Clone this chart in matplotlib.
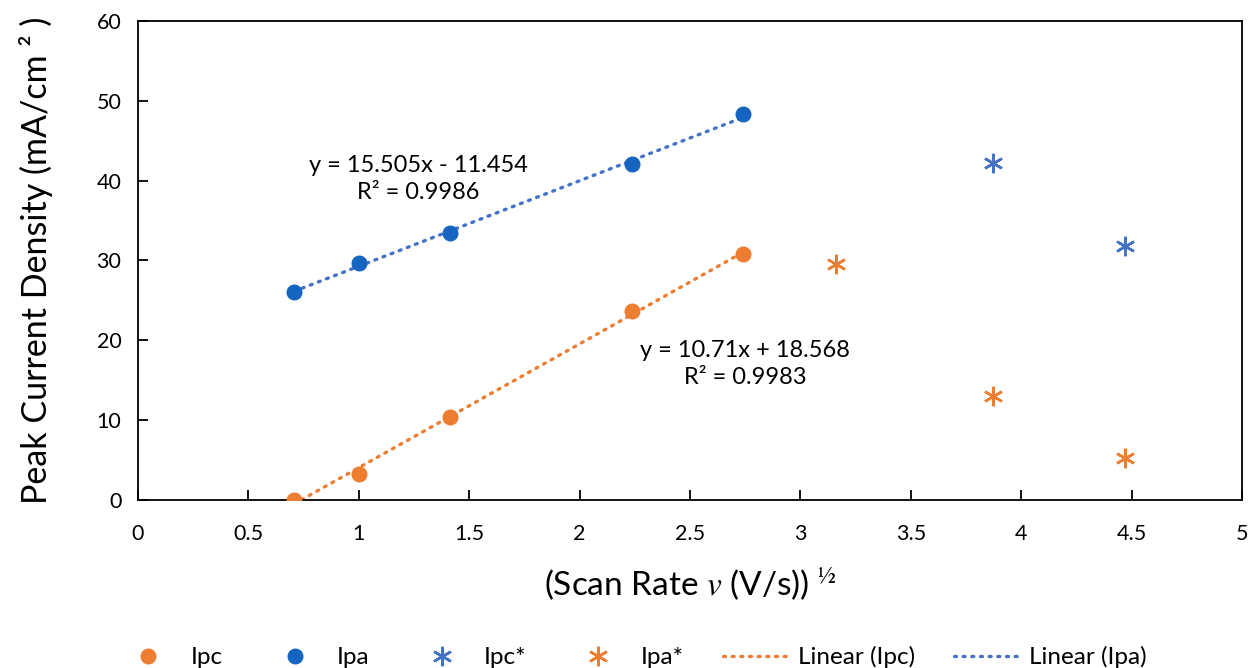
import numpy as np
import matplotlib
matplotlib.use('Agg')
import matplotlib.pyplot as plt

plt.rcParams['font.family'] = ['Lato', 'DejaVu Sans']
plt.rcParams['mathtext.fontset'] = 'stix'

# pierwiastek z szybkosci skanowania
x_fit = [0.707, 1.0, 1.414, 2.236, 2.739]
ipc = [0.0, 3.3, 10.45, 23.7, 30.75]
ipa = [26.1, 29.65, 33.5, 42.1, 48.3]

x_ipc_star = [3.873, 4.472]
ipc_star = [42.2, 31.85]
x_ipa_star = [3.162, 3.873, 4.472]
ipa_star = [29.55, 13.0, 5.2]

# wspolczynniki prostych (nachylenie, wyraz wolny)
fit_ipc = (15.505, -11.454)
fit_ipa = (10.71, 18.568)
r2_ipc = 0.9986
r2_ipa = 0.9983

orange = '#ED7D31'
blue_dark = '#1565C0'
blue = '#4472C4'

fig = plt.figure(figsize=(12.5, 6.68), dpi=100)
ax = fig.add_axes([0.1104, 0.2515, 0.8832, 0.7171])

xx = np.array([min(x_fit), max(x_fit)])
dots = (0, (0.6, 2.0))
ax.plot(x_fit, ipc, 'o', color=orange, ms=10.5, label='Ipc', zorder=3)
ax.plot(x_fit, ipa, 'o', color=blue_dark, ms=10.5, label='Ipa', zorder=3)
ax.plot(x_ipc_star, ipc_star, ls='none', marker=(6, 2, 0), color=blue,
        ms=14, mew=1.8, label='Ipc*', zorder=3)
ax.plot(x_ipa_star, ipa_star, ls='none', marker=(6, 2, 0), color=orange,
        ms=14, mew=1.8, label='Ipa*', zorder=3)
ax.plot(xx, fit_ipc[0] * xx + fit_ipc[1], color=orange, lw=2.4, ls=dots,
        dash_capstyle='round', label='Linear (Ipc)', zorder=2)
ax.plot(xx, fit_ipa[0] * xx + fit_ipa[1], color=blue, lw=2.4, ls=dots,
        dash_capstyle='round', label='Linear (Ipa)', zorder=2)

ax.text(1.268, 40.2, 'y = %.3fx - %.3f\nR² = %.4f' % (fit_ipc[0], -fit_ipc[1], r2_ipc),
        ha='center', va='center', fontsize=17, linespacing=1.35)
ax.text(2.75, 17.0, 'y = %.2fx + %.3f\nR² = %.4f' % (fit_ipa[0], fit_ipa[1], r2_ipa),
        ha='center', va='center', fontsize=17, linespacing=1.35)

ax.set_xlim(0, 5)
ax.set_ylim(0, 60)
ax.set_xticks(np.arange(0, 5.01, 0.5))
ax.set_xticklabels(['0', '0.5', '1', '1.5', '2', '2.5', '3', '3.5', '4', '4.5', '5'])
ax.set_yticks(np.arange(0, 61, 10))
ax.tick_params(direction='in', length=7, width=1.3, labelsize=15.5)
ax.tick_params(axis='x', pad=17)
ax.tick_params(axis='y', pad=12)
for s in ax.spines.values():
    s.set_linewidth(1.3)

ax.set_ylabel('Peak Current Density (mA/cm ² )', fontsize=24.5, labelpad=31)
ax.set_xlabel(r'(Scan Rate $v$ (V/s)) $^{½}$', fontsize=24, labelpad=16)

fig.legend(loc='center', bbox_to_anchor=(0.505, 1 - 657 / 668), ncol=6,
           frameon=False, fontsize=17.5, handlelength=2.7, handletextpad=0.4,
           columnspacing=1.6)

fig.savefig('out.png', dpi=100)
